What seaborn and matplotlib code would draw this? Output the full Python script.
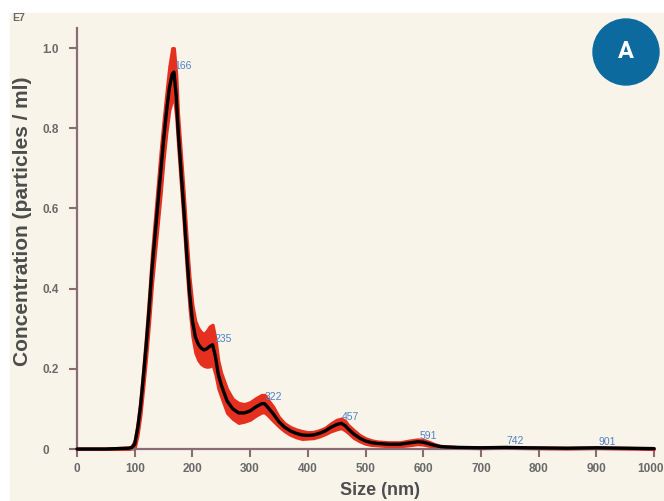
import matplotlib
matplotlib.use("Agg")
import matplotlib.pyplot as plt
from matplotlib.patches import Ellipse, Rectangle
from matplotlib.transforms import ScaledTranslation
import numpy as np
import pandas as pd
import seaborn as sns

# values (size in nm, concentration in 1E7 particles/ml)
sizes = [0, 50, 90, 95, 100, 105, 110, 115, 120, 125, 130, 135, 140, 145, 150,
         155, 160, 165, 168, 172, 175, 180, 185, 190, 195, 200, 205, 210, 215,
         220, 225, 230, 235, 240, 245, 250, 255, 260, 270, 280, 290, 300, 310,
         320, 325, 330, 340, 350, 360, 370, 380, 390, 400, 410, 420, 430, 440,
         450, 458, 465, 470, 480, 490, 500, 510, 520, 540, 560, 575, 590, 600,
         610, 620, 630, 640, 660, 700, 742, 780, 850, 901, 950, 1000]
conc_mean = [0.0, 0.0, 0.002, 0.004, 0.012, 0.05, 0.105, 0.18, 0.26, 0.35,
             0.45, 0.53, 0.61, 0.69, 0.77, 0.84, 0.90, 0.935, 0.94, 0.88,
             0.80, 0.70, 0.60, 0.49, 0.39, 0.32, 0.28, 0.262, 0.252, 0.247,
             0.25, 0.256, 0.26, 0.23, 0.185, 0.16, 0.14, 0.12, 0.10, 0.09,
             0.09, 0.095, 0.105, 0.113, 0.113, 0.105, 0.088, 0.068, 0.054,
             0.045, 0.039, 0.035, 0.034, 0.035, 0.039, 0.045, 0.054, 0.061,
             0.064, 0.058, 0.05, 0.037, 0.027, 0.02, 0.016, 0.014, 0.012,
             0.012, 0.015, 0.018, 0.017, 0.013, 0.009, 0.006, 0.005, 0.004,
             0.003, 0.004, 0.003, 0.002, 0.003, 0.002, 0.001]
conc_err = [0.001, 0.001, 0.002, 0.003, 0.01, 0.015, 0.02, 0.025, 0.03, 0.035,
            0.04, 0.045, 0.05, 0.055, 0.05, 0.05, 0.055, 0.065, 0.06, 0.055,
            0.04, 0.04, 0.04, 0.04, 0.04, 0.04, 0.04, 0.04, 0.04,
            0.04, 0.045, 0.05, 0.05, 0.045, 0.035, 0.03, 0.03, 0.03, 0.025,
            0.025, 0.022, 0.022, 0.022, 0.022, 0.022, 0.02, 0.018, 0.012,
            0.01, 0.01, 0.01, 0.01, 0.008, 0.008, 0.008, 0.008, 0.01, 0.012,
            0.012, 0.012, 0.01, 0.01, 0.008, 0.007, 0.006, 0.005, 0.005,
            0.005, 0.006, 0.006, 0.006, 0.005, 0.003, 0.002, 0.002, 0.001,
            0.001, 0.001, 0.001, 0.001, 0.001, 0.001, 0.001]

peak_sizes = [166, 235, 322, 457, 591, 742, 901]
peak_heights = [0.94, 0.26, 0.113, 0.064, 0.018, 0.004, 0.003]

x_ticks = [0, 100, 200, 300, 400, 500, 600, 700, 800, 900, 1000]
y_ticks = [0, 0.2, 0.4, 0.6, 0.8, 1.0]
y_tick_labels = ["0", "0.2", "0.4", "0.6", "0.8", "1.0"]

df = pd.DataFrame({"size": sizes, "conc": conc_mean, "err": conc_err})
df["upper"] = df["conc"] + df["err"]
df["lower"] = (df["conc"] - df["err"]).clip(lower=0)

sns.set_theme(style="white")
plt.rcParams["font.family"] = ["Liberation Sans", "DejaVu Sans"]

SPINE = "#8b6b74"
CREAM = "#f8f4ea"
TEXT = "#4d4d4d"

fig = plt.figure(figsize=(6.64, 5.01), dpi=100, facecolor="white")
fig.patches.append(Rectangle((10 / 664, 0), 1, 1 - 13 / 501,
                             transform=fig.transFigure, color=CREAM, zorder=-5))
ax = fig.add_axes([77 / 664, 1 - 449 / 501, 577 / 664, 421 / 501])
ax.set_facecolor("none")

ax.fill_between(df["size"], df["lower"], df["upper"], color="#e5301f",
                edgecolor="#e5301f", linewidth=2.2, zorder=2, clip_on=False)
sns.lineplot(data=df, x="size", y="conc", color="black", linewidth=2.4,
             ax=ax, zorder=3, clip_on=False)

for px, py in zip(peak_sizes, peak_heights):
    ax.annotate(str(px), xy=(px, py), xytext=(1, 4.5), textcoords="offset points",
                ha="left", va="center", fontsize=7.5, color="#5082c6", zorder=4)

ax.set_xlim(0, 1000)
ax.set_ylim(0, 1.05)
ax.set_xticks(x_ticks)
ax.set_yticks(y_ticks)
ax.set_yticklabels(y_tick_labels)
ax.tick_params(axis="both", direction="out", length=6, width=1.5, color=SPINE,
               labelsize=8.5, labelcolor="#6a6a6a", pad=4)
# y tick labels are left aligned in the original
ax.tick_params(axis="y", pad=19)
for lbl in ax.get_yticklabels():
    lbl.set_horizontalalignment("left")
for lbl in ax.get_xticklabels() + ax.get_yticklabels():
    lbl.set_fontweight("bold")
# keep the last size label inside the canvas
last = ax.get_xticklabels()[-1]
last.set_transform(last.get_transform() + ScaledTranslation(-3 / 100, 0, fig.dpi_scale_trans))
ax.tick_params(left=True, bottom=True)

for side in ["top", "right"]:
    ax.spines[side].set_visible(False)
for side in ["left", "bottom"]:
    ax.spines[side].set_color(SPINE)
    ax.spines[side].set_linewidth(1.6)

ax.set_xlabel("Size (nm)", fontsize=13, fontweight="bold", color=TEXT)
ax.set_ylabel("Concentration (particles / ml)", fontsize=15, fontweight="bold",
              color=TEXT)
ax.xaxis.set_label_coords(0.525, -0.078)
ax.yaxis.set_label_coords(-0.078, 0.54)

fig.text(12 / 664, 1 - 18 / 501, "E7", fontsize=7.5, fontweight="bold",
         color="#6a6a6a", va="center", ha="left")

# panel badge
badge = Ellipse((626 / 664, 1 - 52 / 501), 66 / 664, 66 / 501,
                transform=fig.transFigure, color="#0d6a9f", zorder=5)
fig.patches.append(badge)
fig.text(626 / 664, 1 - 52 / 501, "A", fontsize=17, fontweight="bold",
         color="white", ha="center", va="center", zorder=6,
         family=["Liberation Sans Narrow", "Roboto", "DejaVu Sans"])

fig.savefig("out.png", dpi=100, facecolor=fig.get_facecolor())
